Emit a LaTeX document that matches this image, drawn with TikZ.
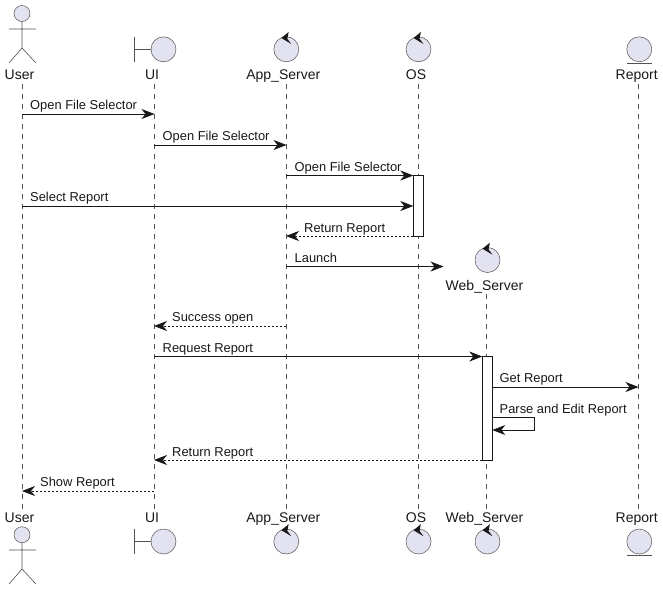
\documentclass[tikz,border=0pt]{standalone}
\usepackage{fontspec}
\setmainfont{Liberation Sans}
\usetikzlibrary{arrows.meta}
\definecolor{inkblack}{HTML}{181818}
\definecolor{iconfill}{HTML}{E2E2F0}
\tikzset{
  lifeline/.style={draw=inkblack!75,line width=0.5pt,dash pattern=on 5pt off 5pt},
  icon/.style={circle,draw=inkblack!75,line width=0.5pt,fill=iconfill,inner sep=0pt,minimum size=25pt},
  iconline/.style={draw=inkblack!75,line width=0.6pt},
  actorhead/.style={icon,minimum size=16pt},
  title/.style={anchor=base,inner sep=0pt,text=inkblack,font=\fontsize{14}{16}\selectfont},
  msgtext/.style={anchor=base west,inner sep=0pt,text=inkblack,font=\fontsize{12.9}{15}\selectfont},
  msg/.style={draw=inkblack,line width=0.75pt,-{Stealth[length=13pt,width=10pt,inset=4pt]}},
  ret/.style={msg,dash pattern=on 2pt off 2pt},
  bar/.style={draw=inkblack,line width=0.75pt,fill=white,inner sep=0pt,minimum width=10pt}
}
\newcommand{\ctrlmark}[1]{\fill[inkblack,shift={(#1)}] (2.4,-17.3) -- (-5,-11.3) -- (5,-5.3) -- (1,-10.6) -- cycle;}
\begin{document}
\begin{tikzpicture}[x=1pt,y=-1pt]
  \useasboundingbox (0,0) rectangle (663,590);
  \path
    (22,84) coordinate (user_a) (22,510) coordinate (user_b)
    (154,84) coordinate (ui_a) (154,510) coordinate (ui_b)
    (286,84) coordinate (app_a) (286,510) coordinate (app_b)
    (418,84) coordinate (os_a) (418,510) coordinate (os_b)
    (486,294) coordinate (web_a) (486,510) coordinate (web_b)
    (638,84) coordinate (rep_a) (638,510) coordinate (rep_b);
  \draw[lifeline] (user_a) -- (user_b);
  \draw[lifeline] (ui_a) -- (ui_b);
  \draw[lifeline] (app_a) -- (app_b);
  \draw[lifeline] (os_a) -- (os_b);
  \draw[lifeline] (web_a) -- (web_b);
  \draw[lifeline] (rep_a) -- (rep_b);

  \node[bar,minimum height=61pt] (osbar) at (418.3,205.7) {};
  \node[bar,minimum height=104pt] (webbar) at (487.3,408) {};

  \node[title] (user_top) at (19.5,79.5) {User};
  \node[title] (ui_top) at (152,79.5) {UI};
  \node[title] (app_top) at (283.3,79.5) {App\_Server};
  \node[title] (os_top) at (416,79.5) {OS};
  \node[title] (web_top) at (484.5,290.7) {Web\_Server};
  \node[title] (rep_top) at (636.7,79.5) {Report};
  \node[title] (user_bot) at (19.5,522.7) {User};
  \node[title] (ui_bot) at (152,522.7) {UI};
  \node[title] (app_bot) at (283.3,522.7) {App\_Server};
  \node[title] (os_bot) at (416,522.7) {OS};
  \node[title] (web_bot) at (484.5,522.7) {Web\_Server};
  \node[title] (rep_bot) at (636.7,522.7) {Report};

  \node[actorhead] (user_head) at (22,13.5) {};
  \draw[iconline] (user_head) -- (22,48) (9,29) -- (36,29) (9,63) -- (22,48) -- (36,63);
  \node[actorhead] (user_foot) at (22,534.7) {};
  \draw[iconline] (user_foot) -- (22,569) (9,550) -- (36,550) (9,584) -- (22,569) -- (36,584);

  \node[icon] (ui_icon) at (163.5,49.3) {};
  \draw[iconline] (134,37) -- (134,61.5) (134,49.3) -- (ui_icon);
  \node[icon] (ui_foot) at (163.5,541.5) {};
  \draw[iconline] (134,529) -- (134,553.5) (134,541.5) -- (ui_foot);

  \node[icon] (app_icon) at (286.3,49.3) {};
  \node[icon] (os_icon) at (418.5,49.3) {};
  \node[icon] (web_icon) at (487.5,260) {};
  \node[icon] (app_foot) at (286.3,541.5) {};
  \node[icon] (os_foot) at (418.5,541.5) {};
  \node[icon] (web_foot) at (487.5,541.5) {};
  \ctrlmark{app_icon}
  \ctrlmark{os_icon}
  \ctrlmark{web_icon}
  \ctrlmark{app_foot}
  \ctrlmark{os_foot}
  \ctrlmark{web_foot}

  \node[icon] (rep_icon) at (639.3,49.3) {};
  \draw[iconline] (627,63) -- (652,63);
  \node[icon] (rep_foot) at (639.3,541.5) {};
  \draw[iconline] (627,555.3) -- (652,555.3);

  \path
    (22,114) coordinate (m1a) (154.5,114) coordinate (m1b)
    (154,145) coordinate (m2a) (286.5,145) coordinate (m2b)
    (286,175.5) coordinate (m3a) (413.3,175.5) coordinate (m3b)
    (22,206) coordinate (m4a) (413.3,206) coordinate (m4b)
    (413.3,236) coordinate (m5a) (286,236) coordinate (m5b)
    (286,266.5) coordinate (m6a) (443.5,266.5) coordinate (m6b)
    (286,326) coordinate (m7a) (154,326) coordinate (m7b)
    (154,356.5) coordinate (m8a) (482.3,356.5) coordinate (m8b)
    (492.3,387) coordinate (m9a) (638.5,387) coordinate (m9b)
    (492.3,417.5) coordinate (m10a) (534.5,417.5) coordinate (m10c)
    (534.5,430) coordinate (m10d) (492.3,430) coordinate (m10b)
    (482.3,460) coordinate (m11a) (154,460) coordinate (m11b)
    (154,491) coordinate (m12a) (22,491) coordinate (m12b);
  \draw[msg] (m1a) -- (m1b);
  \draw[msg] (m2a) -- (m2b);
  \draw[msg] (m3a) -- (m3b);
  \draw[msg] (m4a) -- (m4b);
  \draw[ret] (m5a) -- (m5b);
  \draw[msg] (m6a) -- (m6b);
  \draw[ret] (m7a) -- (m7b);
  \draw[msg] (m8a) -- (m8b);
  \draw[msg] (m9a) -- (m9b);
  \draw[msg] (m10a) -- (m10c) -- (m10d) -- (m10b);
  \draw[ret] (m11a) -- (m11b);
  \draw[ret] (m12a) -- (m12b);

  \node[msgtext] (t1) at (30,109.5) {Open File Selector};
  \node[msgtext] (t2) at (162.5,140) {Open File Selector};
  \node[msgtext] (t3) at (294.5,171) {Open File Selector};
  \node[msgtext] (t4) at (30,201) {Select Report};
  \node[msgtext] (t5) at (304,232) {Return Report};
  \node[msgtext] (t6) at (294.5,262) {Launch};
  \node[msgtext] (t7) at (172,321) {Success open};
  \node[msgtext] (t8) at (162.5,352) {Request Report};
  \node[msgtext] (t9) at (499.5,382) {Get Report};
  \node[msgtext] (t10) at (499.5,413) {Parse and Edit Report};
  \node[msgtext] (t11) at (172,456) {Return Report};
  \node[msgtext] (t12) at (40,486) {Show Report};
\end{tikzpicture}
\end{document}
